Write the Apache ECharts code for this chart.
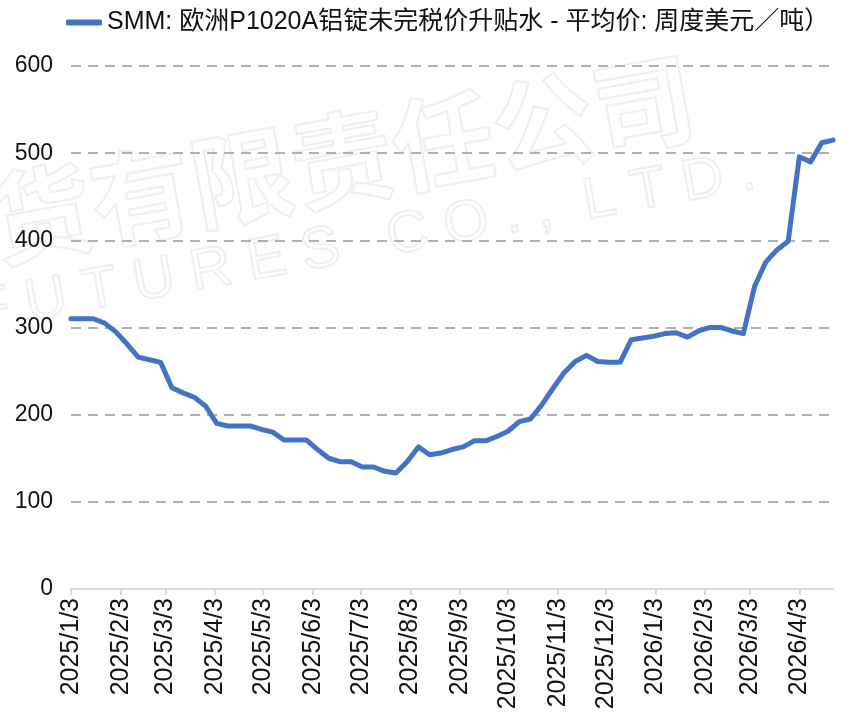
<!DOCTYPE html>
<html><head><meta charset="utf-8">
<script src="https://cdn.jsdelivr.net/npm/echarts@6/dist/echarts.min.js"></script>
<style>html,body{margin:0;padding:0;background:#fff}#c{width:858px;height:715px}</style>
</head><body><div id="c"></div>
<script>
const seriesName = 'SMM: 欧洲P1020A铝锭未完税价升贴水 - 平均价: 周度美元／吨）';
const startDate = '2025/1/3';
const endDate = '2026/4/24';
const weeklyValues = [
  310, 310, 310, 305, 295, 281, 266, 263, 260, 231,
  225, 220, 210, 190, 187, 187, 187, 183, 180, 171,
  171, 171, 160, 150, 146, 146, 140, 140, 135, 133,
  146, 163, 154, 156, 160, 163, 170, 170, 175, 181,
  192, 195, 211, 230, 248, 261, 268, 261, 260, 260,
  286, 288, 290, 293, 294, 289, 296, 300, 300, 296,
  293, 347, 375, 389, 399, 496, 490, 512, 515
];
const yMin = 0, yMax = 600, yInterval = 100;
const watermarkCN = '期货有限责任公司';
const watermarkEN = 'F U T U R E S   C O . ,  L T D .';

function fmt(d){ return d.getUTCFullYear()+'/'+(d.getUTCMonth()+1)+'/'+d.getUTCDate(); }
function parse(s){ const p=s.split('/').map(Number); return new Date(Date.UTC(p[0],p[1]-1,p[2])); }
const DAY = 86400000;
const dayCats = [];
for (let t = parse(startDate).getTime(); t <= parse(endDate).getTime(); t += DAY) dayCats.push(fmt(new Date(t)));
const weekDates = weeklyValues.map((v,i)=>fmt(new Date(parse(startDate).getTime()+i*7*DAY)));
const seriesData = weekDates.map((d,i)=>[d, weeklyValues[i]]);
const isThird = (idx, val) => String(val).split('/')[2] === '3';

const chart = echarts.init(document.getElementById('c'));
const font = '"Liberation Sans", Arial, "Noto Sans CJK SC", sans-serif';
chart.setOption({
  animation: false,
  backgroundColor: '#fff',
  textStyle: { fontFamily: font },
  graphic: [
    { type: 'text', silent: true, z: 0, x: 292, y: 168, rotation: 0.18,
      style: { text: watermarkCN, font: 'bold 102px "Noto Sans CJK SC"', fill: 'rgba(255,255,255,0)', stroke: '#efefef', lineWidth: 2, align: 'center', verticalAlign: 'middle' } },
    { type: 'text', silent: true, z: 0, x: 365, y: 243, rotation: 0.18,
      style: { text: watermarkEN, font: '58px "Liberation Sans"', fill: 'rgba(255,255,255,0)', stroke: '#efefef', lineWidth: 2, align: 'center', verticalAlign: 'middle' } }
  ],
  legend: {
    left: 61, top: 5,
    icon: 'roundRect', itemWidth: 36, itemHeight: 6, itemGap: 10,
    textStyle: { fontSize: 25, color: '#111', fontFamily: font },
    data: [seriesName]
  },
  grid: { left: 71, right: 25, top: 66, bottom: 126, containLabel: false },
  xAxis: {
    type: 'category', data: dayCats, boundaryGap: false,
    axisLine: { lineStyle: { color: '#d9d9d9', width: 2 } },
    axisTick: { show: true, interval: isThird, length: 6, lineStyle: { color: '#d9d9d9', width: 2 } },
    axisLabel: { interval: isThird, rotate: 90, fontSize: 25, color: '#111', margin: 9, fontFamily: font },
    splitLine: { show: false }
  },
  yAxis: {
    type: 'value', min: yMin, max: yMax, interval: yInterval,
    axisLine: { show: false }, axisTick: { show: false },
    axisLabel: { fontSize: 23, color: '#111', margin: 18, fontFamily: font },
    splitLine: { showMinLine: false, lineStyle: { type: [10, 7], color: '#b0b0b0', width: 2 } }
  },
  series: [{
    name: seriesName, type: 'line', data: seriesData, showSymbol: false, symbol: 'none',
    lineStyle: { color: '#4472C4', width: 5, cap: 'round', join: 'round' },
    itemStyle: { color: '#4472C4' }, z: 3
  }]
});
</script></body></html>
